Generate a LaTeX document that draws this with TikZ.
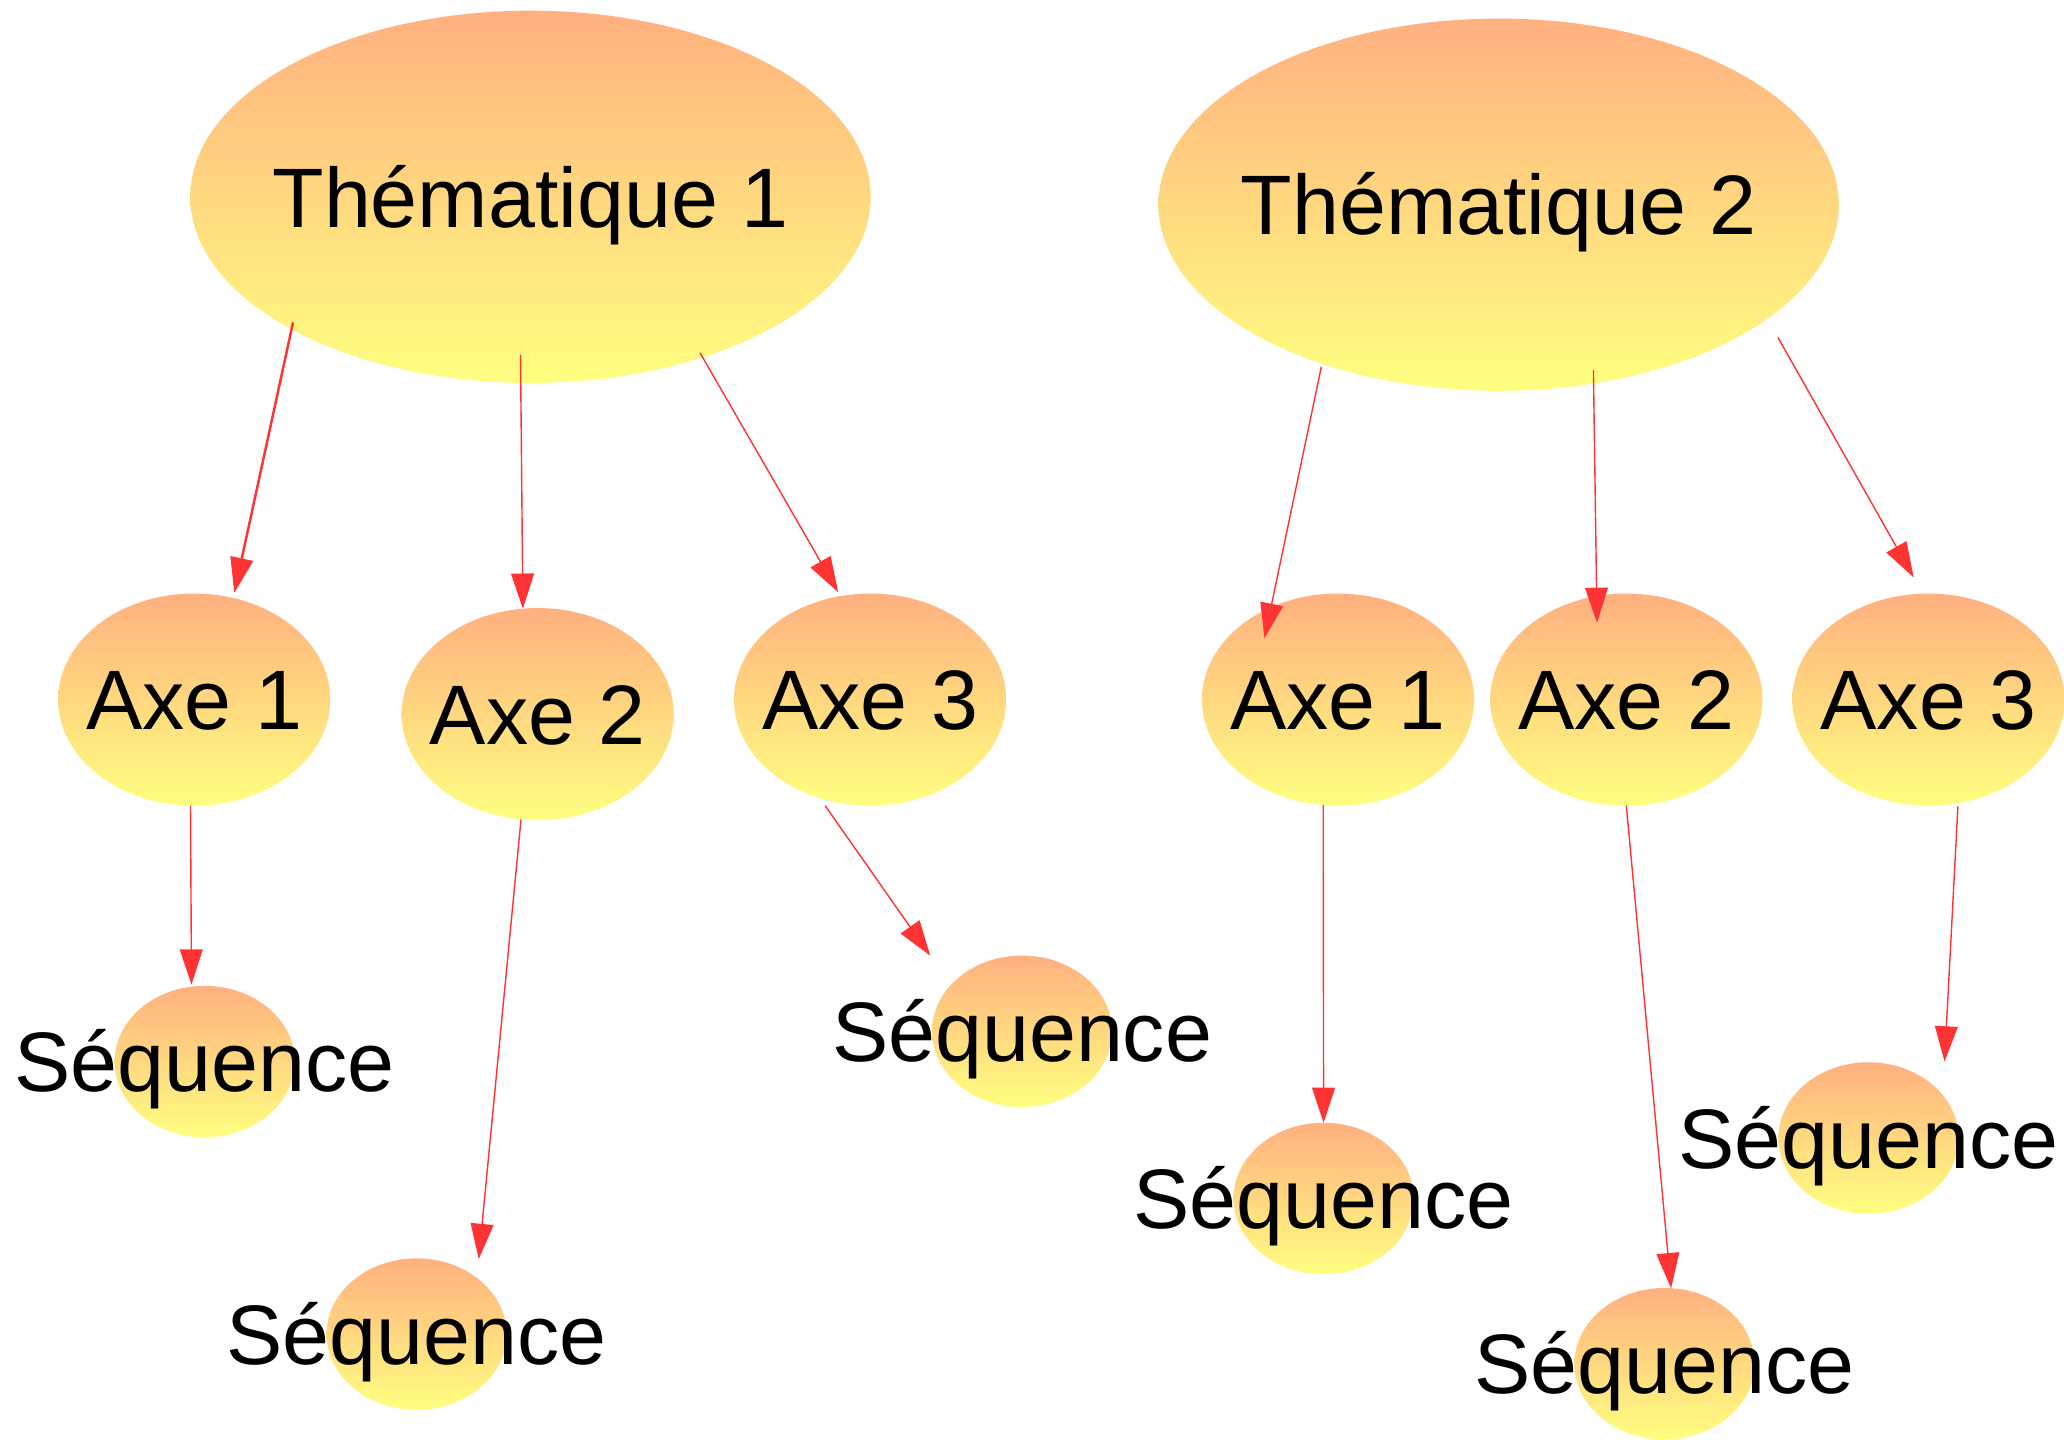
\documentclass[tikz,border=0pt]{standalone}
\usepackage{fontspec}
\setmainfont{Liberation Sans}
\usetikzlibrary{shapes.geometric,arrows.meta}

\definecolor{haut}{RGB}{255,176,128}
\definecolor{bas}{RGB}{255,255,128}
\definecolor{rouge}{RGB}{255,51,51}

\tikzset{
  bulle/.style={ellipse, inner sep=0pt, outer sep=0pt, draw=none,
    top color=haut, bottom color=bas},
  theme/.style={bulle, minimum width=6.8cm, minimum height=3.72cm},
  axe/.style={bulle, minimum width=2.72cm, minimum height=2.12cm},
  seq/.style={bulle, minimum width=1.8cm, minimum height=1.514cm},
  fleche/.style={rouge, line width=0.4pt, -{Triangle[length=10pt,width=6.5pt]}},
  every label/.style={text height=17.2pt, text depth=0pt}
}

\begin{document}
\begin{tikzpicture}[x=0.01cm, y=-0.01cm, font=\fontsize{24}{29}\selectfont]
  \useasboundingbox (0,0) rectangle (2064,1439);

  % Draw the two themes
  \node[theme, label={center:Thématique 1}] (t1) at (530.5,196.8) {};
  \node[theme, label={center:Thématique 2}] (t2) at (1498.6,204.7) {};

  % Draw the axes
  \node[axe, label={center:Axe 1}] (a1) at (194.2,699.6) {};
  \node[axe, label={center:Axe 2}] (a2) at (537.7,714.1) {};
  \node[axe, label={center:Axe 3}] (a3) at (870.1,699.6) {};
  \node[axe, label={center:Axe 1}] (b1) at (1338.0,699.6) {};
  \node[axe, label={center:Axe 2}] (b2) at (1626.3,699.6) {};
  \node[axe, label={center:Axe 3}] (b3) at (1928.4,699.6) {};

  % Draw the sequences
  \node[seq, label={center:Séquence}] (sa1) at (204.7,1061.6) {};
  \node[seq, label={center:Séquence}] (sa2) at (416.6,1334.1) {};
  \node[seq, label={center:Séquence}] (sa3) at (1022.1,1031.3) {};
  \node[seq, label={center:Séquence}] (sb1) at (1323.6,1198.5) {};
  \node[seq, label={center:Séquence}] (sb2) at (1664.5,1363.7) {};
  \node[seq, label={center:Séquence}] (sb3) at (1868.5,1138.0) {};

  % Arrows from the first theme
  \draw[fleche, line width=0.7pt, shorten <=-2pt, shorten >=1.5pt] (t1.209.1) -- (a1.69.3);
  \draw[fleche, shorten <=-7.9pt] (t1.267.6) -- (a2.98.2);
  \draw[fleche, shorten <=-1.5pt, shorten >=1.3pt] (t1.317.9) -- (a3.106.6);
  \draw[fleche, shorten >=0.6pt] (a1.268.2) -- (sa1.100.5);
  \draw[fleche, shorten >=5.4pt] (a2.261.9) -- (sa2.43.9);
  \draw[fleche, shorten <=2.6pt, shorten >=10.2pt] (a3.243.1) -- (sa3.147.4);

  % Arrows from the second theme
  \draw[fleche, shorten <=0.9pt, shorten >=-9pt] (t2.222.5) -- (b1.126.1);
  \draw[fleche, shorten <=-3.7pt, shorten >=-7.6pt] (t2.298.8) -- (b2.106.1);
  \draw[fleche, shorten <=6.1pt, shorten >=5.3pt] (t2.337.1) -- (b3.93.4);
  \draw[fleche] (b1.262.4) -- (sb1.north);
  \draw[fleche] (b2.south) -- (sb2.85.9);
  \draw[fleche, shorten <=0.9pt, shorten >=9.6pt] (b3.286.6) -- (sb3.30.1);

\end{tikzpicture}
\end{document}
